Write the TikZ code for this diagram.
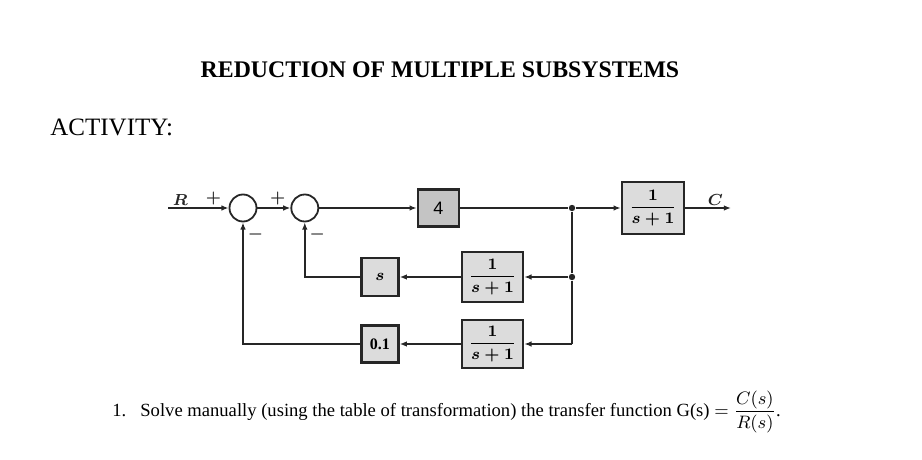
\documentclass[tikz,border=0pt]{standalone}
\usepackage{amsmath}
\usepackage{fontspec}
\setmainfont{Liberation Serif}
\setsansfont{Liberation Sans}
\usetikzlibrary{arrows.meta,positioning}
\definecolor{boxgray}{HTML}{DCDCDC}
\definecolor{darkbox}{HTML}{C4C4C4}
\definecolor{wire}{HTML}{262626}

\begin{document}
\begin{tikzpicture}[x=1pt, y=1pt,
    blk/.style={draw=wire, line width=1.3pt, fill=boxgray, inner sep=0pt,
                align=center, font=\fontsize{8}{9}\selectfont\boldmath\bfseries},
    sumj/.style={draw=wire, line width=0.9pt, circle, fill=white,
                 minimum size=13.5pt, inner sep=0pt},
    junc/.style={circle, fill=wire, inner sep=0pt, minimum size=3.2pt},
    arrow/.style={-{Latex[length=3.6pt,width=2.8pt]}, line width=0.8pt, color=wire},
    wireln/.style={line width=0.8pt, color=wire},
    sgn/.style={font=\fontsize{8}{9}\selectfont\boldmath, inner sep=1pt, text=wire}
]
    \useasboundingbox (0,0) rectangle (461,-230);

    % headings
    \node[font=\fontsize{11.9}{14}\selectfont\bfseries] (title) at (220,-35)
        {REDUCTION OF MULTIPLE SUBSYSTEMS};
    \node[anchor=west, inner sep=0pt, font=\fontsize{12.5}{14}\selectfont] (activity)
        at (25,-63.5) {ACTIVITY:};

    % forward path
    \coordinate (rin) at (84,-104);
    \node[sumj] (sum1) at (121.5,-104) {};
    \node[sumj, right=16.5pt of sum1] (sum2) {};
    \node[blk, fill=darkbox, minimum width=20.5pt, minimum height=18.5pt,
          font=\fontsize{9}{10}\selectfont\sffamily] (blk4) at (219.25,-104) {4};
    \node[junc] (dot1) at (286,-104) {};
    \node[blk, minimum width=31pt, minimum height=26pt] (G1) at (326.5,-104)
        {$\dfrac{1}{s+1}$};
    \coordinate (cout) at (365.5,-104);

    % feedback paths
    \node[junc] (dot2) at (286,-138.5) {};
    \coordinate (corner) at (286,-172);
    \node[blk, minimum width=30.5pt, minimum height=25pt] (H1) at (246.25,-138.5)
        {$\dfrac{1}{s+1}$};
    \node[blk, minimum width=18.5pt, minimum height=19pt, left=30.5pt of H1] (Hs) {$s$};
    \node[blk, minimum width=30.5pt, minimum height=24pt] (H2) at (246.25,-172)
        {$\dfrac{1}{s+1}$};
    \node[blk, minimum width=18.5pt, minimum height=18.5pt, left=30.5pt of H2] (K) {0.1};

    \draw[arrow] (rin) node[above right=0pt and 1pt, inner sep=1pt,
                           font=\fontsize{8}{9}\selectfont\boldmath] {$R$}
        -- node[sgn, pos=0.75, above] {$+$} (sum1);
    \draw[arrow] (sum1) -- node[sgn, pos=0.62, above] {$+$} (sum2);
    \draw[arrow] (sum2) -- (blk4);
    \draw[wireln] (blk4) -- (dot1);
    \draw[arrow] (dot1) -- (G1);
    \draw[arrow] (G1) -- node[pos=0.66, above, inner sep=1pt,
                              font=\fontsize{8}{9}\selectfont\boldmath] {$C$} (cout);
    \draw[wireln] (dot1) -- (dot2) -- (corner);
    \draw[arrow] (dot2) -- (H1);
    \draw[arrow] (H1) -- (Hs);
    \draw[arrow] (Hs.west) -| node[sgn, pos=0.89, right, xshift=1pt] {$-$} (sum2.south);
    \draw[arrow] (corner) -- (H2);
    \draw[arrow] (H2) -- (K);
    \draw[arrow] (K.west) -| node[sgn, pos=0.95, right, xshift=1pt] {$-$} (sum1.south);

    % question
    \node[anchor=base west, inner sep=0pt, font=\fontsize{9.3}{11}\selectfont] (q1)
        at (56,-208) {\makebox[14pt][l]{1.}Solve manually (using the table of
        transformation) the transfer function G(s) $=\dfrac{C(s)}{R(s)}$.};
\end{tikzpicture}
\end{document}
